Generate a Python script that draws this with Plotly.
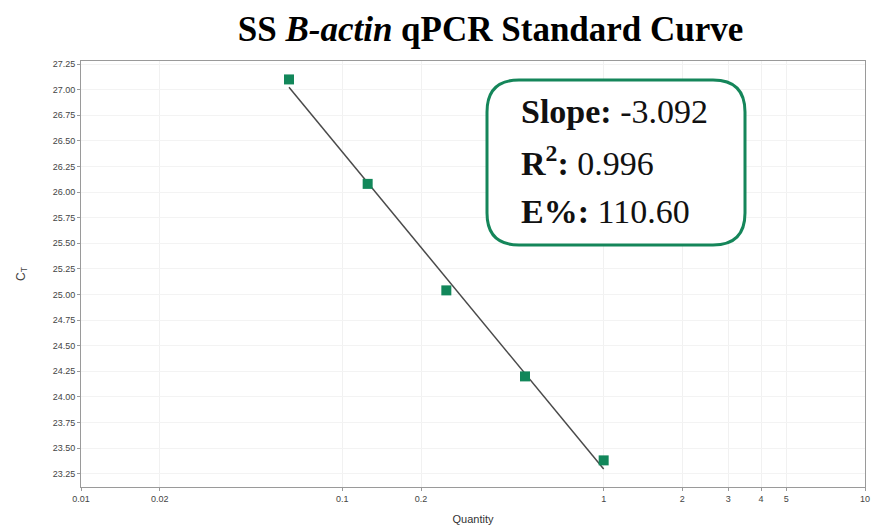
import numpy as np
import plotly.graph_objects as go

quantity = [0.0625, 0.125, 0.25, 0.5, 1.0]
ct = [27.10, 26.08, 25.04, 24.20, 23.38]
x_tickvals = [0.01, 0.02, 0.1, 0.2, 1, 2, 3, 4, 5, 10]
x_ticktext = ["0.01", "0.02", "0.1", "0.2", "1", "2", "3", "4", "5", "10"]
y_tickvals = [23.25 + 0.25 * i for i in range(17)]
stats_lines = ["<b>Slope:</b> -3.092", "<b>R<sup>2</sup>:</b> 0.996", "<b>E%:</b> 110.60"]

W, H = 876, 529
L, R, T, B = 81, 11, 61, 42
pw, ph = W - L - R, H - T - B

def px(x):
    return (x - L) / pw

def py(y):
    return (H - B - y) / ph

# linear fit of Ct vs log10(quantity)
logq = np.log10(quantity)
m, c = np.polyfit(logq, ct, 1)
fit_x = [min(quantity), max(quantity)]
fit_y = [m * np.log10(v) + c for v in fit_x]

fig = go.Figure()
fig.add_trace(go.Scatter(x=fit_x, y=fit_y, mode="lines",
                         line=dict(color="#4a4a4a", width=1.5), showlegend=False))
fig.add_trace(go.Scatter(x=quantity, y=ct, mode="markers",
                         marker=dict(symbol="square", size=10, color="#12875a"),
                         showlegend=False))

fig.update_layout(
    width=W, height=H,
    margin=dict(l=L, r=R, t=T, b=B),
    paper_bgcolor="white", plot_bgcolor="white",
    title=dict(text="SS <i>B-actin</i> qPCR Standard Curve", x=0.56, xanchor="center",
               y=0.945, yanchor="middle",
               font=dict(family="Liberation Serif", size=35, color="black", weight="bold")),
    xaxis=dict(type="log", range=[-2, 1], tickvals=x_tickvals, ticktext=x_ticktext,
               automargin=False,
               showline=True, linecolor="#9a9a9a", linewidth=1, mirror=True,
               ticks="outside", ticklen=3, tickcolor="#9a9a9a",
               showgrid=True, gridcolor="#f1f1f1",
               tickfont=dict(family="Arial", size=9, color="#444"),
               title=dict(text="Quantity", font=dict(family="Arial", size=11, color="#333"), standoff=12)),
    yaxis=dict(range=[23.12, 27.28], tickvals=y_tickvals, tickformat=".2f",
               automargin=False,
               showline=True, linecolor="#9a9a9a", linewidth=1, mirror=True,
               ticks="outside", ticklen=3, tickcolor="#9a9a9a",
               showgrid=True, gridcolor="#f3f3f3",
               tickfont=dict(family="Arial", size=9, color="#444"),
               title=dict(text="C<sub>T</sub>", font=dict(family="Arial", size=12, color="#444"), standoff=24)),
)

# rounded box
x0, x1, y0, y1, r = 487, 745, 80, 245, 32
path = (f"M {px(x0 + r)},{py(y0)} L {px(x1 - r)},{py(y0)} "
        f"Q {px(x1)},{py(y0)} {px(x1)},{py(y0 + r)} L {px(x1)},{py(y1 - r)} "
        f"Q {px(x1)},{py(y1)} {px(x1 - r)},{py(y1)} L {px(x0 + r)},{py(y1)} "
        f"Q {px(x0)},{py(y1)} {px(x0)},{py(y1 - r)} L {px(x0)},{py(y0 + r)} "
        f"Q {px(x0)},{py(y0)} {px(x0 + r)},{py(y0)} Z")
fig.add_shape(type="path", path=path, xref="paper", yref="paper",
              line=dict(color="#15865a", width=3), fillcolor="white", layer="above")

for i, txt in enumerate(stats_lines):
    fig.add_annotation(text=txt, xref="paper", yref="paper", x=px(519), y=py(111 + 50 * i),
                       xanchor="left", yanchor="middle", showarrow=False,
                       font=dict(family="Liberation Serif", size=34, color="#111"))

fig.write_html("out.html")
